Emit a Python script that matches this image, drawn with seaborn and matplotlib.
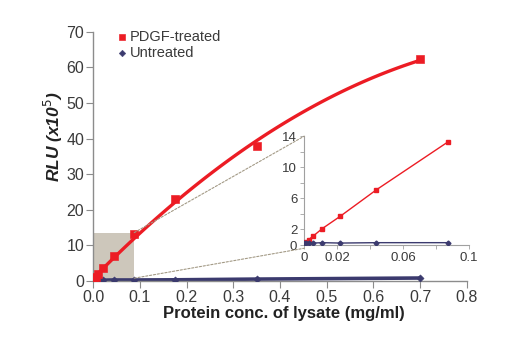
import numpy as np
import pandas as pd
import matplotlib
matplotlib.use("Agg")
import matplotlib.pyplot as plt
from matplotlib.patches import Rectangle, ConnectionPatch
import seaborn as sns

# Protein concentration of lysate (mg/ml), two-fold dilution series
conc = [0.0, 0.00137, 0.00273, 0.00547, 0.0109, 0.0219, 0.0438, 0.0875, 0.175, 0.35, 0.7]
# RLU (x10^5)
pdgf = [0.1, 0.35, 0.7, 1.15, 2.1, 3.7, 7.1, 13.3, 23.0, 38.0, 62.3]
untreated = [0.2, 0.25, 0.25, 0.25, 0.3, 0.25, 0.3, 0.3, 0.35, 0.55, 0.85]

main_xticks = [0.0, 0.1, 0.2, 0.3, 0.4, 0.5, 0.6, 0.7, 0.8]
main_yticks = [0, 10, 20, 30, 40, 50, 60, 70]
inset_xticks = [0, 0.02, 0.04, 0.06, 0.08, 0.1]
inset_xlabels = ["0", "0.02", "", "0.06", "", "0.1"]
inset_yticks = [0, 2, 4, 6, 8, 10, 12, 14]
inset_ylabels = ["0", "2", "", "6", "", "10", "", "14"]

df = pd.DataFrame({"conc": conc, "PDGF-treated": pdgf, "Untreated": untreated})
low = df[df["conc"] <= 0.09]

RED = "#EC1C24"
NAVY = "#3B3A6E"
SPINE = "#8C8C8C"
TXT = "#3A3A3A"

sns.set_style("white")
plt.rcParams["font.family"] = ["Liberation Sans", "DejaVu Sans"]

fig = plt.figure(figsize=(5.2, 3.5), dpi=100)
ax = fig.add_axes([0.179, 0.197, 0.719, 0.712])

# zoom region shading
ax.add_patch(Rectangle((0, 0), 0.088, 13.6, facecolor="#CDC7BB", edgecolor="none", zorder=0))

# untreated series
ax.plot(df["conc"], df["Untreated"], color=NAVY, lw=2.6, zorder=2)
sns.scatterplot(data=df, x="conc", y="Untreated", ax=ax, marker="D", s=14,
                color=NAVY, edgecolor=NAVY, zorder=3, label="Untreated")

# PDGF-treated series with quadratic trend
sns.regplot(data=df, x="conc", y="PDGF-treated", ax=ax, order=2, ci=None,
            scatter=False, line_kws=dict(color=RED, lw=2.4, zorder=4))
sns.scatterplot(data=df, x="conc", y="PDGF-treated", ax=ax, marker="s", s=30,
                color=RED, edgecolor=RED, zorder=5, label="PDGF-treated")

ax.set_xlim(0, 0.8)
ax.set_ylim(0, 70)
ax.set_xticks(main_xticks)
ax.set_xticklabels([f"{v:.1f}" for v in main_xticks])
ax.set_yticks(main_yticks)
ax.set_yticklabels([str(v) for v in main_yticks])
sns.despine(ax=ax)
for s in ("left", "bottom"):
    ax.spines[s].set_color(SPINE)
    ax.spines[s].set_linewidth(1.0)
ax.tick_params(axis="both", direction="out", length=5, width=0.8, color=SPINE,
               labelsize=11.5, labelcolor=TXT, pad=1.5, bottom=True, left=True)
ax.set_xlabel("Protein conc. of lysate (mg/ml)", fontsize=12, fontweight="bold",
              color="#222222")
ax.xaxis.set_label_coords(0.51, -0.1)
ax.set_ylabel("RLU (x10$^{5}$)", fontsize=12.5, fontweight="bold", style="italic",
              color="#222222")
ax.yaxis.set_label_coords(-0.075, 0.58)

handles, labels = ax.get_legend_handles_labels()
order = [labels.index("PDGF-treated"), labels.index("Untreated")]
leg = ax.legend([handles[i] for i in order], [labels[i] for i in order],
                loc="upper left", bbox_to_anchor=(0.045, 1.03), frameon=False,
                fontsize=10.5, handlelength=0.8, handletextpad=0.15, labelspacing=0.1,
                borderaxespad=0.0, markerscale=0.9)
for t in leg.get_texts():
    t.set_color(TXT)

# inset with the low-concentration range
ins = fig.add_axes([0.585, 0.3, 0.317, 0.311])
ins.patch.set_alpha(0)
ins.plot(low["conc"], low["PDGF-treated"], color=RED, lw=1.0, zorder=2)
ins.plot(low["conc"], low["PDGF-treated"], "s", color=RED, ms=3.5, zorder=3)
ins.plot(low["conc"], low["Untreated"], color=NAVY, lw=1.0, zorder=2)
ins.plot(low["conc"], low["Untreated"], "D", color=NAVY, ms=2.5, zorder=3)
ins.set_xlim(0, 0.1)
ins.set_ylim(0, 14)
ins.set_xticks(inset_xticks)
ins.set_xticklabels(inset_xlabels)
ins.set_yticks(inset_yticks)
ins.set_yticklabels(inset_ylabels)
sns.despine(ax=ins)
for s in ("left", "bottom"):
    ins.spines[s].set_color("#A0A0A0")
    ins.spines[s].set_linewidth(0.8)
ins.tick_params(axis="both", direction="out", length=3, width=0.6, color="#A0A0A0",
                labelsize=9.5, labelcolor=TXT, pad=2, bottom=True, left=True)

# guide lines from the shaded region to the inset
for (x0, y0), (x1, y1) in [((0.088, 13.6), (0.0, 1.0)), ((0.088, 0.8), (0.0, -0.03))]:
    cp = ConnectionPatch(xyA=(x0, y0), coordsA=ax.transData,
                         xyB=(x1, y1), coordsB=ins.transAxes,
                         color="#A39A86", lw=0.8, ls=(0, (2, 1.5)), zorder=1)
    fig.add_artist(cp)

fig.savefig("out.png", dpi=100)
